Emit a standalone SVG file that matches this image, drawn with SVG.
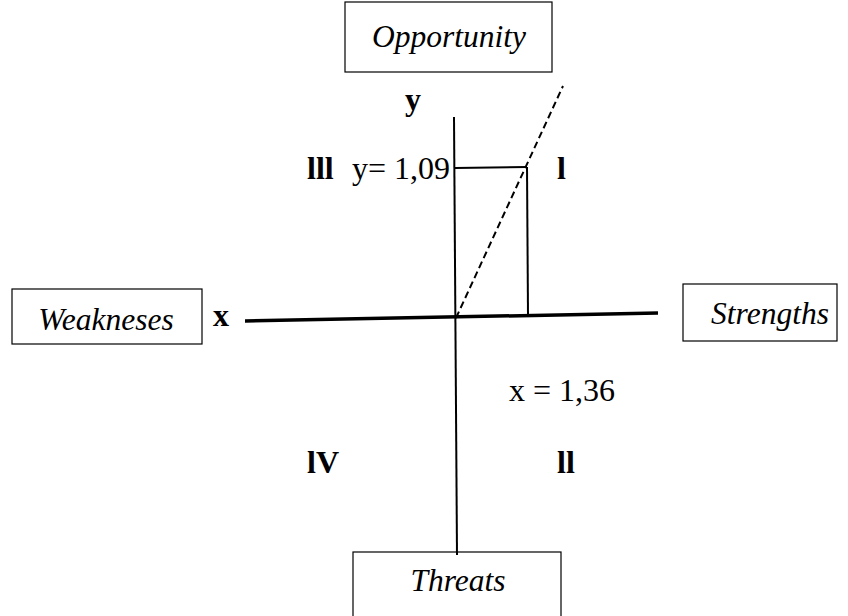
<svg xmlns="http://www.w3.org/2000/svg" width="848" height="616" viewBox="0 0 848 616">
<style>
text{font-family:'Liberation Serif','Times New Roman',serif;fill:#000}
.box{fill:#fff;stroke:#000;stroke-width:1.2}
.lab{font-style:italic;font-size:31.5px;text-anchor:middle}
.b{font-weight:bold;font-size:32px}
.n{font-size:32px}
.ln{stroke:#000;fill:none}
</style>
<rect width="848" height="616" fill="#fff"/>
<g id="opportunity"><rect class="box" x="345" y="2" width="207" height="70"/><text class="lab" x="449" y="47">Opportunity</text></g>
<g id="weakneses"><rect class="box" x="12" y="289" width="190" height="55"/><text class="lab" x="106" y="330">Weakneses</text></g>
<g id="strengths"><rect class="box" x="683" y="284" width="154" height="57"/><text class="lab" x="770" y="324">Strengths</text></g>
<g id="threats"><rect class="box" x="353" y="552" width="208" height="70"/><text class="lab" x="458" y="591">Threats</text></g>
<g id="connectors">
<line class="ln" x1="245" y1="321" x2="658" y2="313" stroke-width="3.5"/>
<line class="ln" x1="454" y1="117" x2="457" y2="555" stroke-width="2"/>
<line class="ln" x1="455" y1="168" x2="527" y2="167" stroke-width="2"/>
<line class="ln" x1="527" y1="167" x2="528" y2="315" stroke-width="2"/>
<line class="ln" x1="456" y1="318" x2="563" y2="86" stroke-width="2" stroke-dasharray="7,4"/>
</g>
<g id="labels">
<text class="b" x="405" y="110">y</text>
<text class="b" x="307" y="179">lll</text>
<text class="n" x="352" y="179">y= 1,09</text>
<text class="b" x="557" y="179">l</text>
<text class="b" x="213" y="326">x</text>
<text class="n" x="509" y="401">x = 1,36</text>
<text class="b" x="307" y="473">lV</text>
<text class="b" x="557" y="473">ll</text>
</g>
</svg>
